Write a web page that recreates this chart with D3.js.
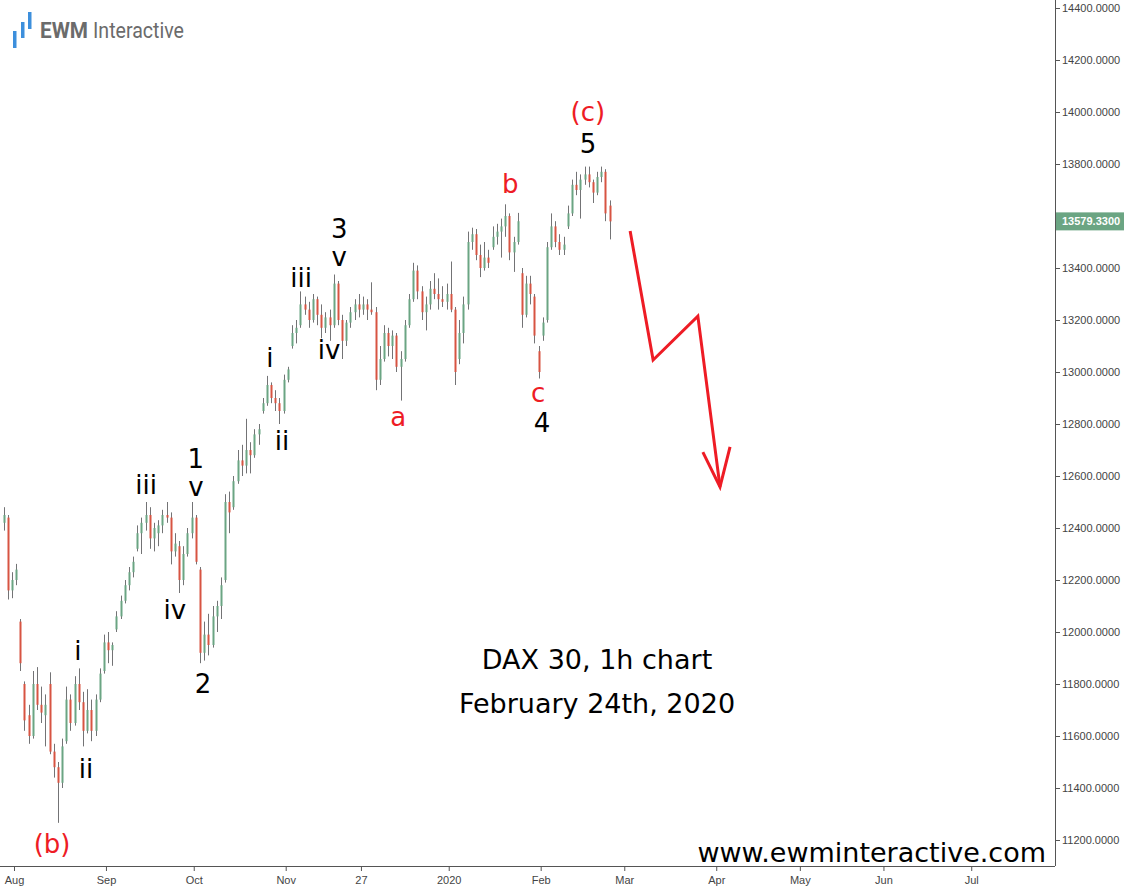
<!DOCTYPE html>
<html><head><meta charset="utf-8">
<script src="https://cdn.jsdelivr.net/npm/d3@7"></script>
<style>
html,body{margin:0;padding:0;background:#fff;}
svg{display:block;}
</style></head>
<body>
<svg id="chart" width="1124" height="889"></svg>
<script>
// ---- data: daily OHLC (trading-day index, 0 = 1 Aug 2019) ----
const days = d3.range(-3, 143);
const opens = [12420,12440,12160,12200,12040,11800,11680,11600,11800,11720,11680,11800,11540,11480,11420,11580,11740,11650,11800,11730,11620,11700,11620,11740,11850,11960,11930,12010,12060,12120,12180,12230,12320,12380,12420,12450,12360,12380,12410,12450,12440,12310,12330,12200,12300,12380,12440,12240,11920,11990,11950,12060,12100,12200,12500,12480,12580,12660,12640,12700,12680,12760,12850,12880,12950,12900,12880,12850,12970,13100,13150,13180,13260,13240,13200,13280,13220,13170,13210,13180,13340,13200,13120,13190,13230,13260,13240,13260,13240,13230,12970,13050,13150,13100,13140,13020,13050,13180,13280,13390,13310,13230,13260,13320,13300,13280,13270,13300,13240,13050,13150,13260,13500,13530,13450,13400,13440,13480,13520,13540,13560,13600,13460,13500,13380,13220,13340,13290,13080,13140,13200,13480,13560,13500,13470,13560,13610,13720,13700,13740,13760,13730,13690,13750,13770,13640];
const highs = [12480,12450,12230,12262,12050,11810,11720,11850,11865,11790,11760,11845,11570,11500,11590,11790,11760,11830,11860,11770,11780,11740,11760,11860,11990,12000,11960,12080,12140,12200,12250,12290,12410,12440,12500,12480,12420,12430,12470,12500,12460,12380,12350,12330,12400,12500,12450,12250,12040,12070,12100,12120,12210,12530,12540,12600,12700,12720,12820,12730,12780,12800,12900,12985,12960,12930,12900,12990,13020,13180,13200,13310,13290,13270,13300,13290,13260,13230,13240,13375,13350,13220,13200,13250,13280,13300,13290,13280,13345,13250,13100,13180,13170,13160,13150,13080,13200,13300,13420,13410,13330,13290,13350,13380,13360,13330,13340,13425,13250,13200,13290,13540,13555,13550,13490,13500,13470,13560,13570,13590,13645,13610,13520,13612,13400,13370,13370,13300,13100,13210,13500,13610,13580,13530,13520,13640,13740,13770,13760,13790,13790,13740,13770,13790,13780,13660];
const lows = [12390,12125,12130,12180,11850,11620,11570,11590,11700,11650,11560,11530,11440,11266,11400,11570,11620,11640,11700,11560,11610,11580,11600,11730,11840,11880,11870,12000,12050,12110,12160,12210,12310,12300,12390,12320,12310,12330,12380,12420,12260,12290,12150,12180,12290,12360,12260,11880,11890,11910,11940,12000,12050,12190,12380,12470,12570,12600,12610,12610,12670,12720,12840,12870,12880,12850,12800,12840,12960,13090,13110,13170,13220,13170,13190,13180,13130,13150,13120,13170,13180,13050,13100,13170,13200,13210,13220,13200,13220,12930,12950,13040,13060,13050,13000,12890,13040,13170,13270,13280,13200,13160,13240,13280,13240,13250,13240,13230,12950,13030,13110,13240,13470,13430,13365,13390,13400,13470,13490,13440,13520,13430,13385,13490,13170,13210,13260,13110,12975,13120,13190,13470,13480,13450,13450,13550,13600,13680,13590,13720,13710,13650,13680,13730,13580,13510];
const closes = [12450,12160,12200,12240,11880,11660,11600,11800,11720,11690,11720,11540,11480,11420,11560,11740,11650,11800,11730,11620,11700,11620,11740,11840,11960,11930,11950,12060,12120,12180,12230,12270,12380,12420,12450,12360,12400,12410,12450,12440,12310,12340,12200,12300,12380,12440,12270,11920,11990,11950,12060,12100,12180,12500,12460,12580,12660,12640,12700,12680,12760,12780,12880,12950,12900,12880,12850,12970,13010,13150,13170,13260,13240,13200,13280,13220,13170,13210,13180,13340,13200,13120,13190,13230,13260,13240,13260,13240,13230,12970,13050,13150,13100,13140,13020,13050,13180,13280,13390,13310,13230,13260,13320,13300,13280,13270,13300,13240,13000,13150,13260,13500,13530,13450,13400,13440,13420,13520,13540,13560,13600,13460,13500,13580,13220,13340,13300,13140,13000,13190,13480,13560,13500,13470,13490,13610,13720,13700,13740,13760,13730,13690,13750,13770,13610,13579.33];
const lastPrice = 13579.33;

// axis ticks (13600 is hidden behind the last-price label in the reference)
const priceTicks = [11200, 11400, 11600, 11800, 12000, 12200, 12400, 12600, 12800, 13000, 13200, 13400, 13800, 14000, 14200, 14400];
const timeTickDays = [0, 22, 43, 65, 83, 104, 126, 146, 168, 188, 208, 229];
const timeTickLabels = ["Aug", "Sep", "Oct", "Nov", "27", "2020", "Feb", "Mar", "Apr", "May", "Jun", "Jul"];

// Elliott wave labels (day index, price at text baseline)
const waveTexts  = ["(b)","i","ii","iii","iv","1","v","2","i","ii","iii","iv","3","v","a","b","c","4","(c)","5"];
const waveDays   = [9.1,15.3,17.2,31.6,38.5,43.5,43.5,45.2,61.2,64.1,68.7,75.4,77.8,77.8,91.9,118.7,125.4,126.3,137.3,137.3];
const wavePrices = [11150,11892,11438,12531,12050,12630,12523,11765,13019,12700,13327,13050,13515,13408,12792,13688,12885,12769,13965,13842];
const waveRed    = [1,0,0,0,0,0,0,0,0,0,0,0,0,0,1,1,1,0,1,0];

// projected path (day index, price)
const projDays   = [147.4, 152.9, 163.6, 168.9];
const projPrices = [13542, 13046, 13215, 12558];
const headDays   = [164.8, 168.9, 171.3];
const headPrices = [12692, 12558, 12712];

// ---- drawing ----
const W = 1124, H = 889;
const plotRight = 1055, plotBottom = 866;
const svg = d3.select("#chart");

const x = d3.scaleLinear().domain([0, 229]).range([14, 14 + 4.18 * 229]);
const y = d3.scaleLinear().domain([11200, 14400]).range([840, 8]);

const UP = "#6ba583", DOWN = "#d75442", WICK = "#737375", RED = "#ee1c25";

svg.append("defs").append("clipPath").attr("id", "plotclip")
  .append("rect").attr("x", 0).attr("y", 0).attr("width", plotRight).attr("height", plotBottom);

const plot = svg.append("g").attr("clip-path", "url(#plotclip)");

const bars = days.map((d, i) => ({d, o: opens[i], h: highs[i], l: lows[i], c: closes[i]}));
const cx = b => Math.round(x(b.d + 0.5)) + 0.5;

plot.selectAll("line.wick").data(bars).join("line")
  .attr("class", "wick")
  .attr("x1", cx).attr("x2", cx)
  .attr("y1", b => y(b.h)).attr("y2", b => y(b.l))
  .attr("stroke", WICK).attr("stroke-width", 1);

plot.selectAll("rect.body").data(bars).join("rect")
  .attr("class", "body")
  .attr("x", b => cx(b) - 1)
  .attr("width", 2)
  .attr("y", b => y(Math.max(b.o, b.c)))
  .attr("height", b => Math.max(1, Math.abs(y(b.o) - y(b.c))))
  .attr("fill", b => b.c >= b.o ? UP : DOWN);

// projection arrow
const line = d3.line().x(p => x(p[0])).y(p => y(p[1]));
plot.append("path")
  .attr("d", line(projDays.map((d, i) => [d, projPrices[i]])))
  .attr("fill", "none").attr("stroke", RED).attr("stroke-width", 3)
  .attr("stroke-linejoin", "miter");
plot.append("path")
  .attr("d", line(headDays.map((d, i) => [d, headPrices[i]])))
  .attr("fill", "none").attr("stroke", RED).attr("stroke-width", 3)
  .attr("stroke-linejoin", "miter");

// wave labels
plot.selectAll("text.wave").data(waveTexts).join("text")
  .attr("class", "wave")
  .attr("x", (t, i) => x(waveDays[i]))
  .attr("y", (t, i) => y(wavePrices[i]))
  .attr("text-anchor", "middle")
  .attr("font-family", "DejaVu Sans, Verdana, sans-serif")
  .attr("font-size", 26)
  .attr("fill", (t, i) => waveRed[i] ? RED : "#000")
  .text(t => t);

// titles
const tf = "DejaVu Sans, Verdana, sans-serif";
svg.append("text").attr("x", 597).attr("y", 669).attr("text-anchor", "middle")
  .attr("font-family", tf).attr("font-size", 27).attr("fill", "#000").text("DAX 30, 1h chart");
svg.append("text").attr("x", 597).attr("y", 713).attr("text-anchor", "middle")
  .attr("font-family", tf).attr("font-size", 27).attr("fill", "#000").text("February 24th, 2020");
svg.append("text").attr("x", 1046).attr("y", 862).attr("text-anchor", "end")
  .attr("font-family", tf).attr("font-size", 27).attr("fill", "#000").text("www.ewminteractive.com");

// axes
const af = "Liberation Sans, Arial, sans-serif";
const yAxis = svg.append("g").attr("transform", `translate(${plotRight},0)`)
  .call(d3.axisRight(y).tickValues(priceTicks).tickFormat(v => v.toFixed(4)).tickSize(5).tickSizeOuter(0));
yAxis.select(".domain").attr("stroke", "#555").attr("d", `M0.5,0V${plotBottom}`);
yAxis.selectAll(".tick line").attr("stroke", "#555");
yAxis.selectAll(".tick text").attr("font-family", af).attr("font-size", 11).attr("fill", "#444").attr("x", 7);

const xAxis = svg.append("g").attr("transform", `translate(0,${plotBottom})`)
  .call(d3.axisBottom(x).tickValues(timeTickDays).tickFormat((v, i) => timeTickLabels[i]).tickSize(5).tickSizeOuter(0));
xAxis.select(".domain").attr("stroke", "#555").attr("d", `M0,0.5H${plotRight}`);
xAxis.selectAll(".tick line").attr("stroke", "#555");
xAxis.selectAll(".tick text").attr("font-family", af).attr("font-size", 11).attr("fill", "#444").attr("y", 10);

// last price label
const lp = svg.append("g").attr("transform", `translate(${plotRight},${y(lastPrice)})`);
lp.append("line").attr("x1", 0).attr("x2", 5).attr("y1", 0.5).attr("y2", 0.5).attr("stroke", "#555");
lp.append("rect").attr("x", 1).attr("y", -9).attr("width", W - plotRight).attr("height", 18).attr("fill", "#6ba583");
lp.append("text").attr("x", 7).attr("y", 4).attr("font-family", af).attr("font-size", 11)
  .attr("font-weight", "bold").attr("fill", "#fff").text(lastPrice.toFixed(4));

// logo
const logo = svg.append("g");
const logoBars = [[13, 31, 17], [21, 22, 16], [28, 12, 17]];
logo.selectAll("rect").data(logoBars).join("rect")
  .attr("x", b => b[0]).attr("y", b => b[1]).attr("width", 3.5).attr("height", b => b[2])
  .attr("fill", "#3d8fdc");
logo.append("text").attr("x", 40).attr("y", 38).attr("font-family", "Roboto, sans-serif")
  .attr("font-weight", "bold").attr("font-size", 22).attr("fill", "#6b6b6b")
  .attr("textLength", 48).attr("lengthAdjust", "spacingAndGlyphs").text("EWM");
logo.append("text").attr("x", 93).attr("y", 38).attr("font-family", "Roboto, sans-serif")
  .attr("font-weight", 400).attr("font-size", 22).attr("fill", "#6b6b6b")
  .attr("textLength", 91).attr("lengthAdjust", "spacingAndGlyphs").text("Interactive");
</script>
</body></html>
